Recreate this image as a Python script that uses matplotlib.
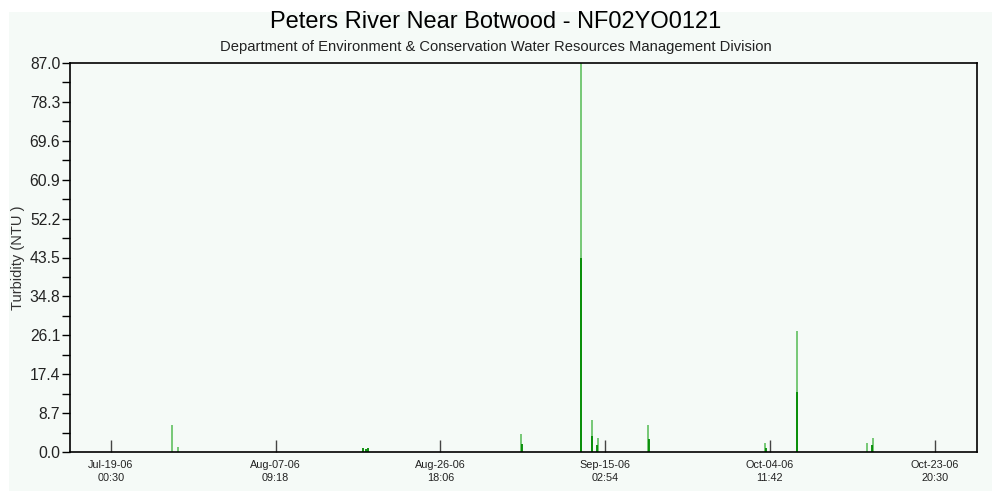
import numpy as np
import pandas as pd
import matplotlib
matplotlib.use("Agg")
from matplotlib import pyplot as plt
import matplotlib.dates as mdates
from matplotlib.patches import Rectangle

plt.rcParams['font.family'] = ['Liberation Sans', 'DejaVu Sans']

# light green spikes (upper values)
light_times = ["2006-07-26 03:50", "2006-07-26 21:40", "2006-09-05 04:35",
               "2006-09-12 06:00", "2006-09-13 14:40", "2006-09-14 05:50",
               "2006-09-20 04:35", "2006-10-03 22:05", "2006-10-07 15:25",
               "2006-10-15 22:35", "2006-10-16 13:55"]
light_vals = [6.0, 1.1, 4.0, 87.0, 7.2, 3.1, 6.0, 2.1, 27.1, 2.1, 3.1]

# dark green spikes
dark_times = ["2006-08-17 16:40", "2006-08-17 23:20", "2006-08-18 05:50",
              "2006-09-05 08:25", "2006-09-12 07:40",
              "2006-09-13 13:00", "2006-09-14 03:10", "2006-09-20 07:30",
              "2006-10-04 00:45", "2006-10-07 16:40", "2006-10-16 12:00"]
dark_vals = [1.0, 0.6, 1.0, 1.8, 43.5, 3.6, 1.6, 2.8, 0.9, 13.5, 1.6]

yticks = [0.0, 8.7, 17.4, 26.1, 34.8, 43.5, 52.2, 60.9, 69.6, 78.3, 87.0]
xtick_times = ["2006-07-19 00:30", "2006-08-07 09:18", "2006-08-26 18:06",
               "2006-09-15 02:54", "2006-10-04 11:42", "2006-10-23 20:30"]
xtick_labels = ["Jul-19-06\n00:30", "Aug-07-06\n09:18", "Aug-26-06\n18:06",
                "Sep-15-06\n02:54", "Oct-04-06\n11:42", "Oct-23-06\n20:30"]

bg = "#f5faf7"
W, H = 992, 491
fig = plt.figure(figsize=(W / 100, H / 100), dpi=100)
fig.patch.set_facecolor("white")
fig.patches.append(Rectangle((9 / W, 0), 1, 1 - 12 / H, transform=fig.transFigure,
                             facecolor=bg, edgecolor="none", zorder=-10))

ax = fig.add_axes([70 / W, 1 - 452 / H, (977 - 70) / W, (452 - 63) / H])
ax.set_facecolor(bg)

lt = mdates.date2num(pd.to_datetime(light_times))
dt = mdates.date2num(pd.to_datetime(dark_times))
ax.vlines(lt, 0, light_vals, color="#6cc46c", linewidth=1.3)
ax.vlines(dt, 0, dark_vals, color="#008a00", linewidth=1.3)

xt = mdates.date2num(pd.to_datetime(xtick_times))
ax.set_xlim(pd.Timestamp("2006-07-14 05:10"), pd.Timestamp("2006-10-28 20:00"))
ax.set_ylim(0, 87.0)
ax.set_xticks(xt)
ax.set_xticklabels(xtick_labels, fontsize=7.8, color="#222222", linespacing=1.35)
ax.tick_params(axis="x", direction="in", length=9, width=1, color="#444444", pad=6)

ax.set_yticks(yticks)
ax.set_yticklabels(["%.1f" % v for v in yticks], fontsize=11.3, color="#222222")
ax.set_yticks([v + 4.35 for v in yticks[:-1]], minor=True)
ax.tick_params(axis="y", which="major", direction="out", length=6, width=1, pad=1)
ax.tick_params(axis="y", which="minor", direction="out", length=6, width=1)
ax.set_ylabel("Turbidity (NTU )", fontsize=10.5, color="#333333", labelpad=3)

for s in ax.spines.values():
    s.set_linewidth(1.2)
    s.set_color("black")

fig.text(0.5, 1 - 22 / H, "Peters River Near Botwood - NF02YO0121", ha="center",
         va="center", fontsize=17, color="black")
fig.text(0.5, 1 - 47 / H, "Department of Environment & Conservation Water Resources Management Division",
         ha="center", va="center", fontsize=10.6, color="#222222")

fig.savefig("out.png", dpi=100, facecolor=fig.get_facecolor())
